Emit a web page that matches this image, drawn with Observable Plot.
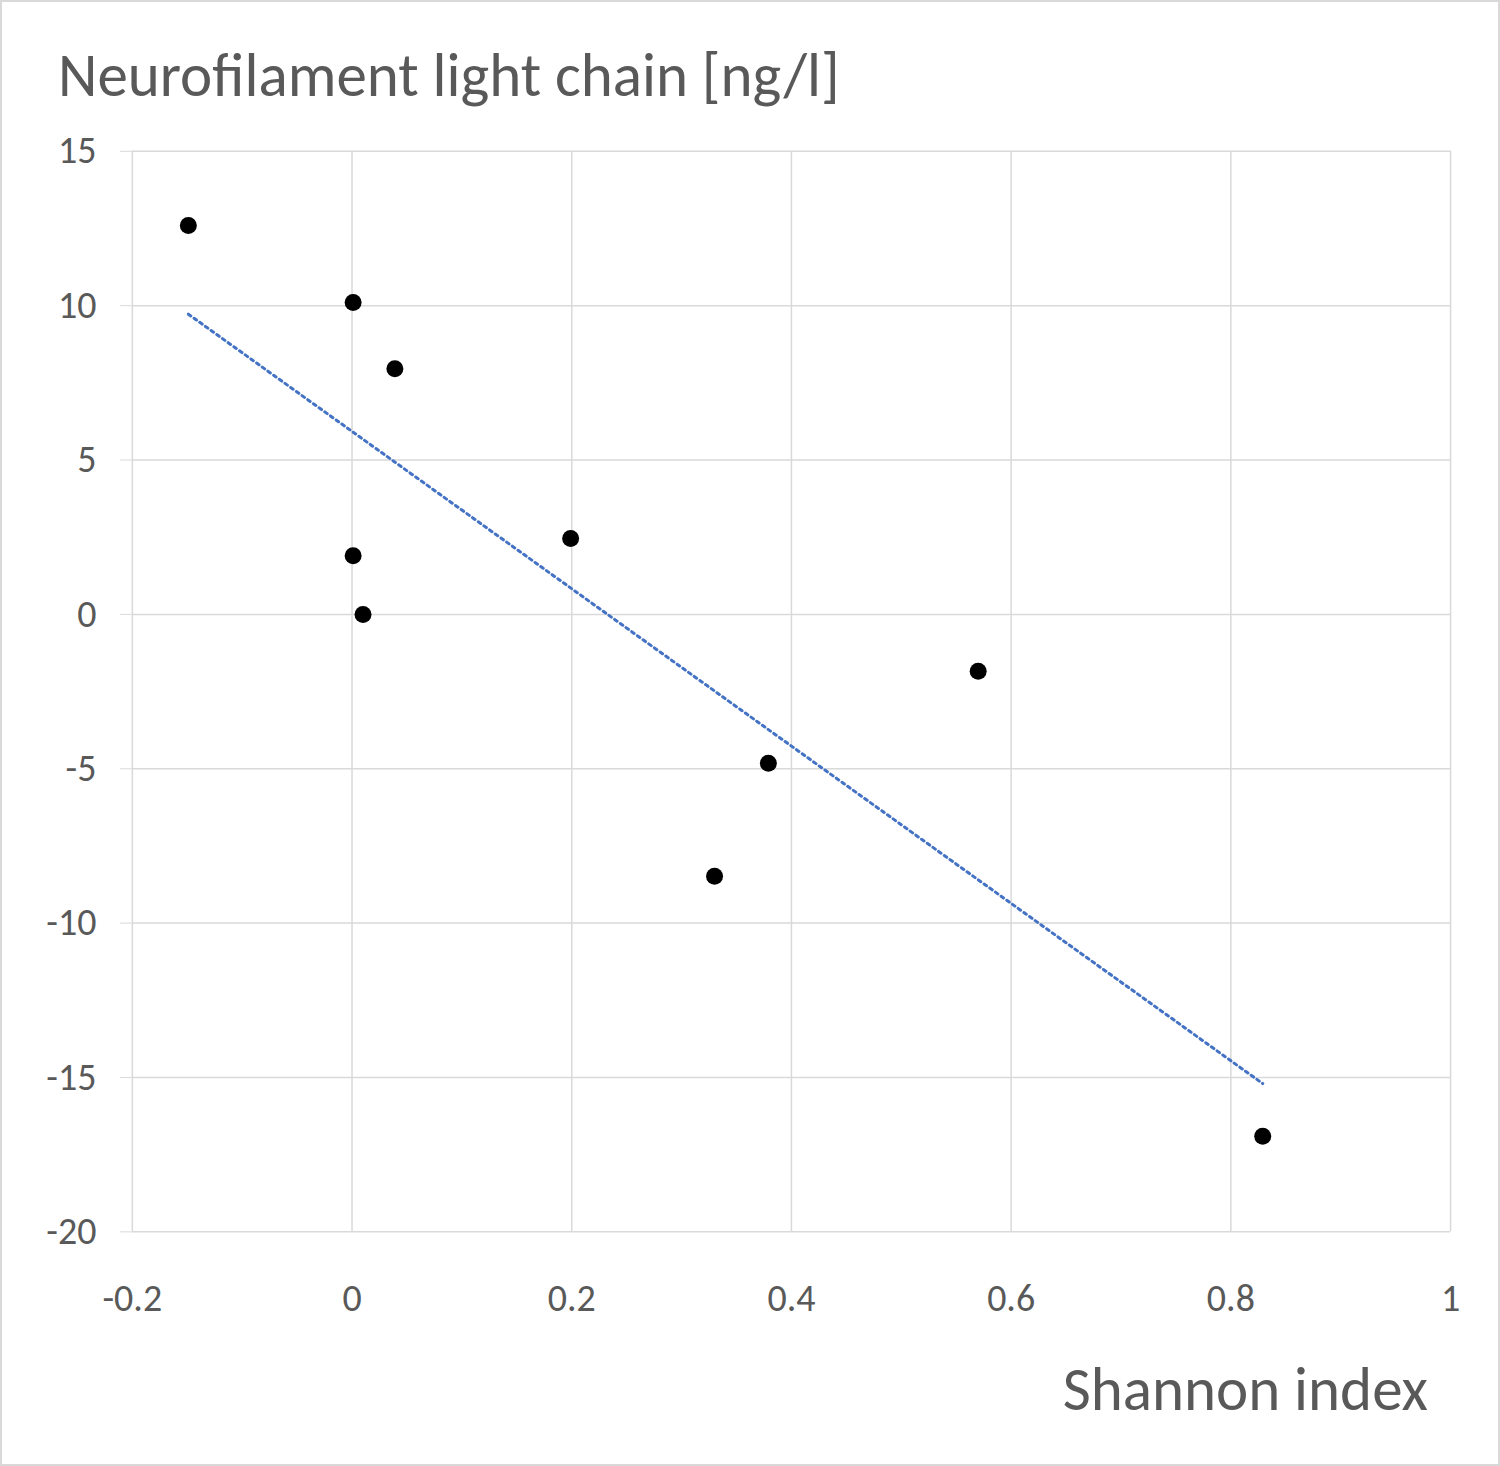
<!DOCTYPE html>
<html><head><meta charset="utf-8">
<script src="https://cdn.jsdelivr.net/npm/d3@7"></script>
<script src="https://cdn.jsdelivr.net/npm/@observablehq/plot@0.6"></script>
<style>
body{margin:0;background:#fff;font-family:Calibri,Carlito,Lato,sans-serif}
#wrap{position:relative;width:1496px;height:1462px;border:2px solid #d9d9d9;background:#fff}
#title{position:absolute;left:56px;top:36px;font-size:61px;color:#595959}
#xt{position:absolute;right:70px;top:1350px;font-size:61px;color:#595959}
#plot{position:absolute;left:-2px;top:-2px}
</style></head><body>
<div id="wrap"><div id="title">Neurofilament light chain [ng/l]</div><div id="plot"></div><div id="xt">Shannon index</div></div>
<script>
const shannon = [-0.149, 0.001, 0.039, 0.001, 0.01, 0.199, 0.57, 0.379, 0.33, 0.829];
const nfl = [12.6, 10.1, 7.96, 1.9, 0.0, 2.46, -1.84, -4.82, -8.48, -16.9];
const xTicks = [-0.2, 0, 0.2, 0.4, 0.6, 0.8, 1];
const yTicks = [15, 10, 5, 0, -5, -10, -15, -20];
const data = shannon.map((x, i) => ({x, y: nfl[i]}));
const chart = Plot.plot({
  width: 1500, height: 1340,
  marginLeft: 132, marginRight: 48, marginTop: 151, marginBottom: 107,
  style: {fontSize: "38px", color: "#595959", fontFamily: "Calibri,Carlito,Lato,sans-serif", background: "transparent"},
  x: {domain: [-0.2, 1], ticks: xTicks, tickFormat: d => String(d), tickSize: 0, label: null},
  y: {domain: [-20, 15], ticks: yTicks, tickFormat: d => String(d), tickSize: 12, label: null},
  marks: [
    Plot.gridX(xTicks, {stroke: "#d9d9d9", strokeOpacity: 1, strokeWidth: 1.5}),
    Plot.gridY(yTicks, {stroke: "#d9d9d9", strokeOpacity: 1, strokeWidth: 1.5}),
    Plot.axisY({ticks: yTicks, tickSize: 12, tickPadding: 24, tickFormat: d => String(d), stroke: "#d9d9d9", strokeOpacity: 1, label: null}),
    Plot.axisX({ticks: xTicks, tickSize: 0, tickPadding: 52, tickFormat: d => String(d), label: null}),
    Plot.linearRegressionY(data, {x: "x", y: "y", ci: 0, stroke: "#4472c4", strokeWidth: 3, strokeDasharray: "3,4"}),
    Plot.dot(data, {x: "x", y: "y", r: 8.5, fill: "black"})
  ]
});
document.getElementById("plot").appendChild(chart);
</script></body></html>
